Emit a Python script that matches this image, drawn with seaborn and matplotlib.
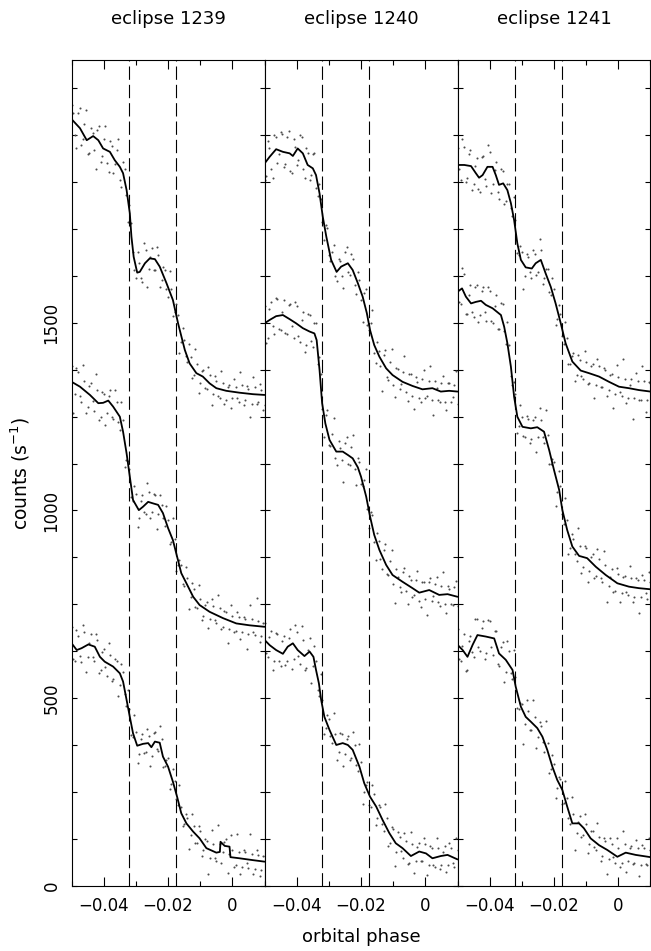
import pandas as pd
import matplotlib
matplotlib.use("Agg")
import matplotlib.pyplot as plt
import seaborn as sns
from matplotlib.ticker import MultipleLocator, FixedLocator, FuncFormatter

# eclipse 1239 : smoothed light curves (top / middle / bottom)
e1239_hi_ph = [-0.0500, -0.0474, -0.0453, -0.0433, -0.0417, -0.0402, -0.0381, -0.0366, -0.0350, -0.0340, -0.0329,
               -0.0319, -0.0314, -0.0307, -0.0296, -0.0288, -0.0272, -0.0257, -0.0241, -0.0226, -0.0205, -0.0185,
               -0.0169, -0.0148, -0.0133, -0.0112, -0.0092, -0.0071, -0.0050, -0.0019, 0.0022, 0.0064, 0.0100]
e1239_hi_ct = [2043, 2019, 1987, 1998, 1987, 1965, 1956, 1934, 1916, 1899, 1854, 1792, 1730, 1676, 1634, 1636, 1659,
               1672, 1670, 1650, 1606, 1561, 1499, 1428, 1392, 1366, 1357, 1339, 1326, 1319, 1314, 1310, 1308]
e1239_mid_ph = [-0.0500, -0.0474, -0.0443, -0.0417, -0.0402, -0.0386, -0.0371, -0.0350, -0.0340, -0.0329, -0.0319,
                -0.0309, -0.0291, -0.0278, -0.0262, -0.0247, -0.0231, -0.0216, -0.0200, -0.0185, -0.0172, -0.0159,
                -0.0143, -0.0122, -0.0102, -0.0071, -0.0029, 0.0012, 0.0053, 0.0100]
e1239_mid_ct = [1343, 1330, 1308, 1286, 1287, 1293, 1277, 1250, 1210, 1152, 1090, 1028, 1001, 1010, 1023, 1019, 1015,
                993, 953, 921, 877, 833, 806, 770, 748, 730, 713, 699, 694, 690]
e1239_lo_ph = [-0.0500, -0.0484, -0.0469, -0.0448, -0.0428, -0.0412, -0.0397, -0.0371, -0.0350, -0.0340, -0.0329,
               -0.0319, -0.0309, -0.0296, -0.0278, -0.0262, -0.0252, -0.0241, -0.0226, -0.0216, -0.0200, -0.0185,
               -0.0172, -0.0159, -0.0143, -0.0122, -0.0102, -0.0081, -0.0050, -0.0039, -0.0037, -0.0024, -0.0009,
               -0.0006, 0.0022, 0.0064, 0.0100]
e1239_lo_ct = [646, 628, 633, 643, 637, 610, 597, 584, 566, 544, 495, 450, 406, 373, 378, 380, 369, 384, 381, 344, 317,
               277, 237, 193, 166, 144, 126, 100, 88, 90, 117, 106, 104, 76, 73, 68, 64]

# eclipse 1240
e1240_hi_ph = [-0.0500, -0.0484, -0.0464, -0.0443, -0.0422, -0.0412, -0.0397, -0.0381, -0.0366, -0.0350, -0.0340,
               -0.0329, -0.0319, -0.0308, -0.0293, -0.0276, -0.0262, -0.0241, -0.0226, -0.0210, -0.0195, -0.0182,
               -0.0172, -0.0159, -0.0143, -0.0122, -0.0102, -0.0071, -0.0040, -0.0009, 0.0022, 0.0048, 0.0074, 0.0100]
e1240_hi_ct = [1925, 1943, 1963, 1956, 1952, 1945, 1965, 1952, 1921, 1912, 1894, 1845, 1783, 1730, 1668, 1636, 1650,
               1659, 1641, 1606, 1570, 1526, 1481, 1441, 1410, 1379, 1361, 1343, 1332, 1323, 1326, 1317, 1319, 1317]
e1240_mid_ph = [-0.0500, -0.0484, -0.0464, -0.0443, -0.0422, -0.0402, -0.0381, -0.0360, -0.0345, -0.0338, -0.0329,
                -0.0321, -0.0311, -0.0298, -0.0277, -0.0257, -0.0241, -0.0226, -0.0210, -0.0200, -0.0184, -0.0172,
                -0.0159, -0.0143, -0.0122, -0.0102, -0.0071, -0.0040, -0.0019, 0.0012, 0.0043, 0.0069, 0.0100]
e1240_mid_ct = [1499, 1508, 1518, 1521, 1510, 1499, 1486, 1477, 1472, 1454, 1374, 1286, 1232, 1188, 1157, 1157, 1148,
                1139, 1115, 1090, 1037, 984, 935, 895, 855, 828, 810, 793, 781, 788, 775, 777, 770]
e1240_lo_ph = [-0.0500, -0.0484, -0.0464, -0.0443, -0.0428, -0.0412, -0.0397, -0.0376, -0.0360, -0.0348, -0.0340,
               -0.0331, -0.0324, -0.0314, -0.0298, -0.0277, -0.0257, -0.0241, -0.0226, -0.0205, -0.0190, -0.0172,
               -0.0153, -0.0133, -0.0112, -0.0092, -0.0071, -0.0045, -0.0019, 0.0002, 0.0022, 0.0048, 0.0069, 0.0100]
e1240_lo_ct = [655, 641, 628, 618, 637, 646, 628, 612, 624, 610, 575, 539, 495, 450, 415, 375, 380, 375, 362, 317, 273,
               237, 211, 175, 140, 113, 100, 79, 91, 86, 73, 79, 82, 70]

# eclipse 1241
e1241_hi_ph = [-0.0500, -0.0479, -0.0458, -0.0443, -0.0433, -0.0422, -0.0407, -0.0391, -0.0381, -0.0371, -0.0358,
               -0.0345, -0.0334, -0.0324, -0.0314, -0.0303, -0.0288, -0.0269, -0.0257, -0.0241, -0.0226, -0.0210,
               -0.0195, -0.0179, -0.0164, -0.0143, -0.0117, -0.0091, -0.0060, -0.0029, 0.0002, 0.0033, 0.0064, 0.0100]
e1241_hi_ct = [1921, 1921, 1918, 1899, 1887, 1894, 1916, 1916, 1894, 1868, 1872, 1854, 1819, 1774, 1712, 1668, 1648,
               1645, 1659, 1668, 1632, 1596, 1552, 1499, 1446, 1397, 1373, 1366, 1357, 1343, 1330, 1326, 1321, 1317]
e1241_mid_ph = [-0.0500, -0.0486, -0.0474, -0.0458, -0.0443, -0.0427, -0.0412, -0.0391, -0.0365, -0.0355, -0.0345,
                -0.0334, -0.0324, -0.0314, -0.0298, -0.0272, -0.0252, -0.0231, -0.0215, -0.0200, -0.0184, -0.0174,
                -0.0159, -0.0143, -0.0122, -0.0097, -0.0070, -0.0039, -0.0003, 0.0033, 0.0064, 0.0100]
e1241_mid_ct = [1583, 1592, 1570, 1552, 1556, 1559, 1548, 1539, 1521, 1490, 1446, 1383, 1303, 1250, 1223, 1219, 1222,
                1210, 1161, 1108, 1055, 1001, 948, 904, 879, 873, 850, 828, 806, 797, 793, 790]
e1241_lo_ph = [-0.0500, -0.0484, -0.0469, -0.0453, -0.0438, -0.0412, -0.0386, -0.0371, -0.0350, -0.0329, -0.0319,
               -0.0303, -0.0288, -0.0272, -0.0252, -0.0236, -0.0221, -0.0205, -0.0190, -0.0174, -0.0159, -0.0143,
               -0.0122, -0.0107, -0.0086, -0.0060, -0.0034, -0.0003, 0.0023, 0.0054, 0.0100]
e1241_lo_ct = [642, 628, 610, 642, 668, 664, 659, 619, 602, 575, 530, 477, 450, 437, 420, 397, 362, 317, 282, 255, 211,
               166, 166, 153, 126, 108, 95, 77, 88, 82, 76]

# raw binned points: two interleaved phase grids
dot_ph = [-0.050, -0.049, -0.048, -0.047, -0.046, -0.045, -0.044, -0.043, -0.042, -0.041,
          -0.040, -0.039, -0.038, -0.037, -0.036, -0.035, -0.034, -0.033, -0.032, -0.031,
          -0.030, -0.029, -0.028, -0.027, -0.026, -0.025, -0.024, -0.023, -0.022, -0.021,
          -0.020, -0.019, -0.018, -0.017, -0.016, -0.015, -0.014, -0.013, -0.012, -0.011,
          -0.010, -0.009, -0.008, -0.007, -0.006, -0.005, -0.004, -0.003, -0.002, -0.001,
          0.000, 0.001, 0.002, 0.003, 0.004, 0.005, 0.006, 0.007, 0.008, 0.009, 0.010]
dot_ph2 = [-0.0495, -0.0485, -0.0475, -0.0465, -0.0455, -0.0445, -0.0435, -0.0425, -0.0415, -0.0405,
           -0.0395, -0.0385, -0.0375, -0.0365, -0.0355, -0.0345, -0.0335, -0.0325, -0.0315, -0.0305,
           -0.0295, -0.0285, -0.0275, -0.0265, -0.0255, -0.0245, -0.0235, -0.0225, -0.0215, -0.0205,
           -0.0195, -0.0185, -0.0175, -0.0165, -0.0155, -0.0145, -0.0135, -0.0125, -0.0115, -0.0105,
           -0.0095, -0.0085, -0.0075, -0.0065, -0.0055, -0.0045, -0.0035, -0.0025, -0.0015, -0.0005,
           0.0005, 0.0015, 0.0025, 0.0035, 0.0045, 0.0055, 0.0065, 0.0075, 0.0085, 0.0095]

e1239_hi_dots = [2080, 2000, 2060, 1975, 2030, 1950, 2020, 1960, 2015, 1930, 1990, 1925, 1985, 1900, 1960, 1880,
                 1930, 1840, 1815, 1690, 1620, 1660, 1610, 1695, 1645, 1700, 1640, 1680, 1615, 1640, 1570, 1590,
                 1530, 1520, 1450, 1455, 1395, 1410, 1360, 1390, 1340, 1375, 1325, 1360, 1310, 1345, 1300, 1340,
                 1295, 1335, 1300, 1330, 1290, 1335, 1295, 1325, 1285, 1330, 1290, 1320, 1280]
e1239_hi_dots2 = [2059, 1965, 2073, 1989, 2068, 1952, 2005, 1911, 2026, 1944, 2026, 1902, 1972, 1923, 1991, 1862,
                  1910, 1770, 1767, 1640, 1690, 1620, 1712, 1595, 1676, 1640, 1702, 1597, 1648, 1591, 1638, 1518,
                  1550, 1421, 1486, 1412, 1444, 1353, 1431, 1313, 1373, 1326, 1383, 1280, 1359, 1304, 1372, 1285,
                  1328, 1272, 1351, 1300, 1368, 1282, 1331, 1250, 1355, 1284, 1338, 1268]
e1239_mid_dots = [1385, 1310, 1370, 1290, 1345, 1275, 1340, 1265, 1320, 1250, 1310, 1260, 1320, 1245, 1290, 1215,
                  1240, 1135, 1110, 1025, 1045, 980, 1040, 990, 1050, 995, 1040, 990, 1015, 960, 975, 915, 925, 855,
                  855, 800, 820, 770, 790, 740, 765, 720, 755, 710, 745, 700, 740, 690, 730, 685, 720, 680, 715, 675,
                  710, 670, 710, 668, 705, 665, 700]
e1239_mid_dots2 = [1260, 1380, 1304, 1387, 1260, 1333, 1291, 1363, 1242, 1317, 1229, 1305, 1248, 1320, 1236, 1290,
                   1115, 1132, 1037, 1066, 956, 1024, 997, 1074, 981, 1044, 950, 1041, 981, 1013, 912, 980, 839, 868,
                   803, 850, 738, 806, 742, 802, 709, 748, 687, 763, 709, 774, 685, 731, 648, 749, 676, 729, 657, 716,
                   630, 748, 677, 766, 650, 700]
e1239_lo_dots = [690, 600, 665, 595, 675, 610, 670, 600, 655, 575, 630, 560, 615, 550, 600, 535, 570, 480, 470, 395,
                 410, 350, 405, 355, 400, 345, 410, 360, 390, 320, 340, 270, 280, 215, 210, 165, 180, 135, 160, 115,
                 145, 95, 120, 75, 110, 65, 110, 90, 125, 85, 95, 55, 90, 50, 90, 48, 85, 45, 82, 42, 80]
e1239_lo_dots2 = [605, 682, 611, 695, 569, 646, 609, 671, 566, 624, 582, 646, 546, 604, 505, 590, 512, 522, 402, 456,
                  328, 390, 353, 418, 320, 408, 363, 425, 317, 336, 258, 311, 231, 268, 158, 191, 98, 192, 113, 159,
                  78, 125, 32, 148, 75, 163, 60, 117, 35, 135, 49, 138, 30, 96, 60, 139, 30, 96, 25, 79]
e1240_hi_dots = [1880, 1985, 1910, 2000, 1925, 2010, 1915, 1995, 1905, 1990, 1920, 2000, 1910, 1965, 1880, 1950,
                 1860, 1870, 1770, 1760, 1680, 1690, 1625, 1670, 1625, 1690, 1635, 1685, 1600, 1635, 1560, 1580,
                 1495, 1500, 1420, 1450, 1385, 1415, 1355, 1395, 1335, 1380, 1325, 1370, 1315, 1365, 1305, 1355,
                 1300, 1350, 1300, 1345, 1295, 1345, 1295, 1340, 1290, 1340, 1290, 1335, 1285]
e1240_hi_dots2 = [1891, 1967, 1887, 1995, 1951, 2003, 1924, 2012, 1899, 1969, 1935, 1995, 1886, 1954, 1895, 1953,
                  1837, 1830, 1720, 1754, 1665, 1708, 1612, 1666, 1593, 1702, 1629, 1670, 1578, 1614, 1503, 1591,
                  1481, 1534, 1394, 1425, 1318, 1429, 1348, 1430, 1302, 1376, 1336, 1411, 1292, 1364, 1271, 1343,
                  1290, 1374, 1305, 1386, 1255, 1327, 1289, 1358, 1269, 1339, 1303, 1373]
e1240_mid_dots = [1545, 1460, 1555, 1470, 1565, 1480, 1560, 1470, 1550, 1460, 1545, 1450, 1530, 1440, 1520, 1435,
                  1500, 1410, 1270, 1255, 1175, 1205, 1140, 1185, 1135, 1180, 1125, 1170, 1110, 1140, 1070, 1080,
                  1005, 995, 915, 940, 870, 895, 830, 865, 805, 845, 795, 835, 785, 825, 770, 815, 760, 810, 765,
                  810, 760, 805, 755, 800, 750, 800, 750, 795, 745]
e1240_mid_dots2 = [1447, 1538, 1493, 1567, 1485, 1530, 1472, 1548, 1493, 1557, 1465, 1509, 1423, 1524, 1451, 1500,
                   1390, 1363, 1195, 1268, 1172, 1246, 1121, 1167, 1075, 1196, 1120, 1201, 1068, 1128, 1064, 1110,
                   954, 987, 867, 918, 845, 912, 827, 894, 754, 823, 783, 847, 751, 816, 775, 840, 743, 810, 722,
                   821, 772, 823, 746, 836, 727, 791, 748, 811]
e1240_lo_dots = [700, 610, 680, 600, 670, 585, 665, 600, 685, 605, 675, 590, 655, 580, 660, 585, 600, 505, 495, 420,
                 445, 380, 405, 355, 405, 350, 400, 340, 375, 305, 330, 250, 275, 210, 245, 180, 210, 145, 180, 115,
                 150, 90, 130, 75, 120, 60, 110, 65, 115, 65, 110, 55, 100, 50, 100, 55, 105, 55, 100, 50, 95]
e1240_lo_dots2 = [620, 662, 575, 674, 599, 652, 589, 659, 578, 694, 613, 693, 575, 629, 539, 638, 522, 565, 404, 455,
                  400, 460, 334, 408, 319, 391, 336, 410, 321, 378, 219, 268, 214, 268, 163, 216, 164, 218, 107, 157,
                  53, 144, 93, 141, 57, 143, 34, 103, 65, 128, 29, 107, 55, 127, 44, 90, 36, 115, 61, 127]
e1241_hi_dots = [1965, 1880, 1970, 1885, 1960, 1870, 1940, 1850, 1945, 1865, 1955, 1870, 1930, 1830, 1905, 1825,
                 1870, 1785, 1775, 1680, 1690, 1625, 1675, 1620, 1685, 1635, 1695, 1620, 1645, 1575, 1590, 1510,
                 1525, 1445, 1460, 1390, 1420, 1360, 1400, 1350, 1395, 1340, 1390, 1335, 1385, 1330, 1375, 1320,
                 1365, 1310, 1355, 1305, 1350, 1300, 1350, 1300, 1345, 1295, 1345, 1295, 1340]
e1241_hi_dots2 = [1911, 1991, 1875, 1949, 1854, 1917, 1857, 1943, 1883, 1973, 1846, 1908, 1849, 1909, 1816, 1871,
                  1807, 1835, 1687, 1706, 1591, 1683, 1636, 1695, 1628, 1724, 1605, 1645, 1582, 1621, 1495, 1548,
                  1464, 1502, 1390, 1413, 1344, 1414, 1358, 1424, 1337, 1384, 1301, 1403, 1329, 1380, 1305, 1361,
                  1272, 1388, 1315, 1404, 1287, 1335, 1244, 1367, 1295, 1384, 1263, 1342]
e1241_mid_dots = [1625, 1550, 1630, 1525, 1600, 1515, 1600, 1520, 1595, 1505, 1585, 1500, 1575, 1485, 1550, 1445,
                  1440, 1335, 1310, 1225, 1250, 1195, 1245, 1190, 1250, 1195, 1240, 1180, 1200, 1125, 1130, 1050,
                  1065, 965, 975, 900, 925, 865, 905, 850, 900, 840, 885, 825, 870, 810, 855, 800, 845, 785, 830,
                  780, 825, 775, 820, 770, 815, 770, 815, 765, 810]
e1241_mid_dots2 = [1556, 1646, 1524, 1575, 1529, 1596, 1503, 1586, 1530, 1595, 1506, 1546, 1484, 1553, 1478, 1503,
                   1358, 1343, 1207, 1280, 1198, 1251, 1180, 1240, 1156, 1274, 1197, 1269, 1124, 1138, 1012, 1105,
                   991, 1033, 883, 938, 885, 954, 833, 905, 809, 877, 819, 897, 820, 893, 756, 824, 783, 848, 755,
                   822, 784, 852, 756, 820, 728, 827, 781, 835]
e1241_lo_dots = [685, 600, 670, 575, 665, 610, 710, 625, 705, 620, 705, 615, 680, 585, 650, 570, 625, 550, 555, 470,
                 485, 430, 465, 415, 450, 395, 425, 355, 380, 310, 325, 260, 285, 220, 235, 165, 190, 140, 185, 135,
                 165, 110, 145, 95, 130, 80, 120, 70, 110, 60, 100, 60, 110, 65, 105, 60, 100, 55, 100, 55, 95]
e1241_lo_dots2 = [603, 639, 573, 653, 622, 712, 636, 686, 605, 708, 636, 680, 590, 636, 542, 651, 567, 629, 473, 487,
                  377, 494, 416, 496, 367, 437, 382, 439, 300, 349, 234, 289, 219, 279, 180, 236, 96, 170, 130, 190,
                  87, 147, 104, 167, 66, 126, 31, 126, 77, 126, 50, 145, 37, 100, 58, 122, 26, 109, 58, 127]

titles = ["eclipse 1239", "eclipse 1240", "eclipse 1241"]
contact_phases = [-0.0322, -0.0174]

panels = [
    [(e1239_hi_ph, e1239_hi_ct, e1239_hi_dots, e1239_hi_dots2),
     (e1239_mid_ph, e1239_mid_ct, e1239_mid_dots, e1239_mid_dots2),
     (e1239_lo_ph, e1239_lo_ct, e1239_lo_dots, e1239_lo_dots2)],
    [(e1240_hi_ph, e1240_hi_ct, e1240_hi_dots, e1240_hi_dots2),
     (e1240_mid_ph, e1240_mid_ct, e1240_mid_dots, e1240_mid_dots2),
     (e1240_lo_ph, e1240_lo_ct, e1240_lo_dots, e1240_lo_dots2)],
    [(e1241_hi_ph, e1241_hi_ct, e1241_hi_dots, e1241_hi_dots2),
     (e1241_mid_ph, e1241_mid_ct, e1241_mid_dots, e1241_mid_dots2),
     (e1241_lo_ph, e1241_lo_ct, e1241_lo_dots, e1241_lo_dots2)],
]

sns.set_theme(style="ticks")
plt.rcParams['font.family'] = ['DejaVu Sans']
plt.rcParams['mathtext.default'] = 'regular'
plt.rcParams['axes.linewidth'] = 0.8
plt.rcParams['axes.edgecolor'] = 'black'
plt.rcParams['text.color'] = 'black'
plt.rcParams['xtick.color'] = 'black'
plt.rcParams['ytick.color'] = 'black'

fig, axes = plt.subplots(1, 3, figsize=(6.51, 9.51), dpi=100, sharey=True)
fig.subplots_adjust(left=0.110, right=0.9992, bottom=0.0687, top=0.9366, wspace=0)


def phase_fmt(v, pos):
    if abs(v) < 1e-9:
        return "0"
    return ("%.2f" % v).replace("-", "\u2212")


for i, (ax, curves) in enumerate(zip(axes, panels)):
    for ph, ct, dots, dots2 in curves:
        pts = pd.DataFrame({"phase": dot_ph + dot_ph2, "counts": dots + dots2})
        sns.scatterplot(data=pts, x="phase", y="counts", ax=ax, s=2.2, color="0.3",
                        linewidth=0, legend=False)
        lc = pd.DataFrame({"phase": ph, "counts": ct})
        sns.lineplot(data=lc, x="phase", y="counts", ax=ax, color="black", lw=1.3,
                     estimator=None, sort=False)
    for p in contact_phases:
        ax.axvline(p, color="black", lw=0.8, linestyle=(0, (12, 4.5)))
    ax.set_xlim(-0.05, 0.01)
    ax.set_ylim(0, 2200)
    ax.set_xlabel("")
    ax.set_ylabel("")
    ax.xaxis.set_major_locator(MultipleLocator(0.02))
    ax.xaxis.set_minor_locator(MultipleLocator(0.01))
    ax.xaxis.set_major_formatter(FuncFormatter(phase_fmt))
    ax.yaxis.set_major_locator(FixedLocator([0, 500, 1000, 1500]))
    ax.yaxis.set_minor_locator(MultipleLocator(125))
    ax.tick_params(which="both", direction="in", top=True, right=True, color="black",
                   labelcolor="black", labelsize=12, width=0.8)
    ax.tick_params(axis="x", which="major", length=6.5, pad=8)
    ax.tick_params(axis="x", which="minor", length=3.3)
    ax.tick_params(axis="y", which="both", length=3.6, pad=8)
    if i == 0:
        ax.tick_params(axis="y", labelrotation=90)
        for lab in ax.get_yticklabels():
            lab.set_va("center")
    else:
        ax.tick_params(axis="y", labelleft=False)
    box = ax.get_position()
    fig.text(0.5 * (box.x0 + box.x1), 1 - 19 / 951, titles[i], ha="center", va="center", fontsize=13)

fig.text(0.5 * (0.110 + 0.9992), 1 - 937 / 951, "orbital phase", ha="center", va="center", fontsize=13)
fig.text(20 / 651, 1 - 473 / 951, "counts (s$^{-1}$)", rotation=90, ha="center", va="center", fontsize=13.5)

fig.savefig("out.png", dpi=100)
